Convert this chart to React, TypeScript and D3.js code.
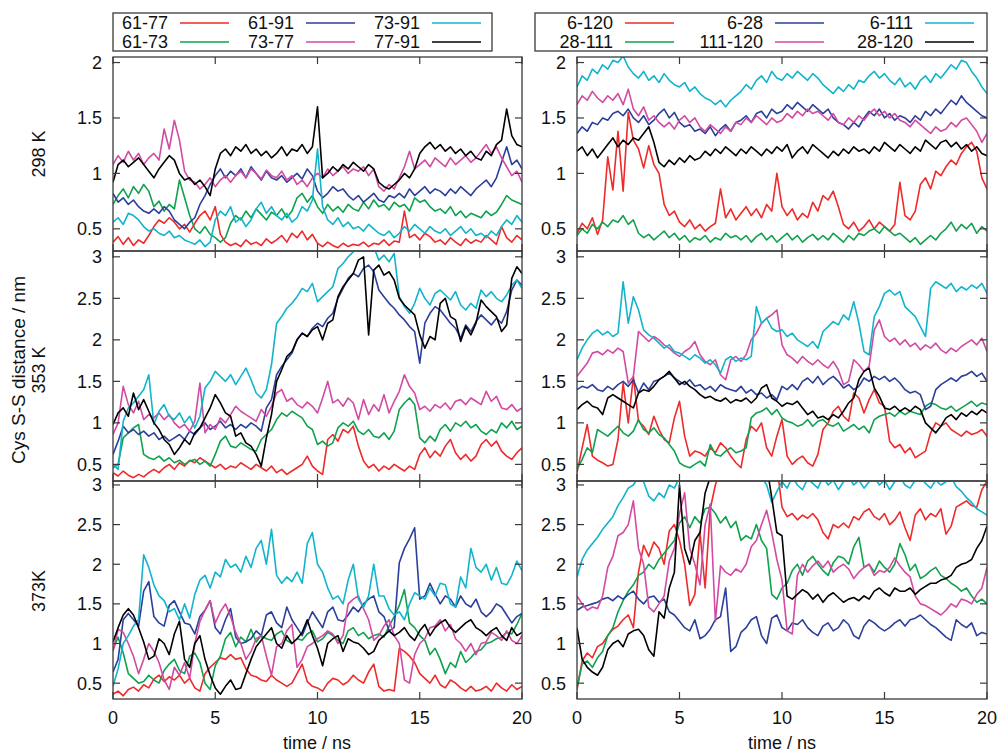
import React from "react";
import * as d3 from "d3";

// sampling times, every 0.25 ns
const times = d3.range(81).map((i) => i * 0.25);

const leftNames = ["61-77", "61-73", "61-91", "73-77", "73-91", "77-91"];
const rightNames = ["6-120", "28-111", "6-28", "111-120", "6-111", "28-120"];
const colors = ["#ee2a2a", "#0fa24e", "#2b3f9a", "#d24aa2", "#12b4cc", "#000000"];
const rowLabels = ["298 K", "353 K", "373K"];
const yTicksTop = [0.5, 1, 1.5, 2];
const yTicksLow = [0.5, 1, 1.5, 2, 2.5, 3];
const xTicks = [0, 5, 10, 15, 20];

// ---- 298 K, left (61-77, 61-73, 61-91, 73-77, 73-91, 77-91)
const a298red = [0.38,0.43,0.36,0.42,0.35,0.40,0.37,0.44, 0.52,0.58,0.55,0.60,0.56,0.50,0.54,0.47, 0.55,0.62,0.66,0.58,0.70,0.45,0.38,0.35, 0.37,0.34,0.40,0.36,0.38,0.35,0.41,0.37, 0.40,0.44,0.38,0.46,0.42,0.48,0.40,0.45, 0.37,0.34,0.38,0.35,0.33,0.37,0.34,0.36, 0.35,0.38,0.34,0.37,0.36,0.40,0.35,0.39, 0.38,0.66,0.42,0.45,0.40,0.46,0.43,0.38, 0.40,0.36,0.42,0.38,0.35,0.41,0.37,0.40, 0.38,0.44,0.40,0.36,0.52,0.42,0.38,0.44, 0.40];
const a298green = [0.72,0.80,0.86,0.78,0.88,0.82,0.90,0.84, 0.70,0.75,0.66,0.72,0.68,0.94,0.78,0.62, 0.50,0.46,0.52,0.45,0.42,0.38,0.42,0.55, 0.62,0.58,0.66,0.60,0.68,0.63,0.58,0.65, 0.62,0.68,0.60,0.66,0.78,0.82,0.74,0.80, 0.70,0.64,0.72,0.66,0.70,0.65,0.72,0.68, 0.66,0.74,0.68,0.76,0.70,0.72,0.67,0.74, 0.70,0.72,0.66,0.78,0.74,0.76,0.70,0.66, 0.68,0.64,0.70,0.62,0.66,0.60,0.64,0.62, 0.60,0.66,0.62,0.65,0.72,0.80,0.76,0.74, 0.72];
const a298blue = [0.82,0.74,0.78,0.72,0.76,0.70,0.66,0.64, 0.68,0.64,0.70,0.66,0.58,0.54,0.50,0.56, 0.60,0.72,0.80,0.90,0.98,1.04,0.96,1.02, 0.98,1.04,0.96,1.06,1.00,0.94,1.02,0.96, 0.94,0.98,0.92,0.96,1.00,0.95,1.04,0.98, 0.84,0.78,0.82,0.88,0.84,0.86,0.80,0.76, 0.80,0.74,0.78,0.82,0.76,0.74,0.80,0.78, 0.82,0.78,0.86,0.80,0.84,0.88,0.82,0.86, 0.84,0.80,0.86,0.82,0.88,0.84,0.80,0.86, 0.90,0.94,0.88,0.96,1.10,1.24,1.08,1.12, 1.04];
const a298magenta = [1.08,1.16,1.10,1.20,1.12,1.18,1.08,1.14, 1.18,1.12,1.40,1.22,1.48,1.30,1.02,0.94, 0.92,0.86,0.90,0.96,0.88,0.94,0.98,0.92, 0.98,1.02,0.96,1.04,1.00,0.95,1.03,0.98, 0.96,1.02,0.94,0.98,0.90,0.94,0.88,0.96, 1.00,0.96,1.04,0.98,1.02,1.06,1.00,1.04, 1.02,1.06,0.98,1.04,0.88,0.84,0.90,0.86, 0.96,1.06,1.20,1.04,1.08,1.12,1.06,1.14, 1.10,1.06,1.14,1.08,1.12,1.16,1.10,1.14, 1.20,1.26,1.18,1.24,1.14,1.06,0.98,1.02, 0.92];
const a298cyan = [0.56,0.60,0.54,0.64,0.62,0.58,0.52,0.48, 0.50,0.46,0.44,0.48,0.42,0.44,0.40,0.38, 0.36,0.40,0.34,0.38,0.58,0.66,0.62,0.70, 0.56,0.60,0.52,0.58,0.68,0.74,0.64,0.70, 0.62,0.58,0.64,0.56,0.60,0.70,0.66,0.76, 1.22,0.70,0.58,0.54,0.60,0.52,0.56,0.50, 0.52,0.48,0.54,0.50,0.46,0.44,0.48,0.42, 0.46,0.52,0.48,0.54,0.50,0.46,0.52,0.48, 0.46,0.50,0.44,0.48,0.52,0.46,0.50,0.44, 0.46,0.42,0.48,0.44,0.52,0.58,0.54,0.62, 0.56];
const a298black = [0.92,1.08,1.12,1.06,1.10,1.14,1.08,1.02, 0.96,1.04,1.10,1.16,1.12,1.00,0.94,0.96, 0.90,0.94,0.88,0.80,1.04,1.18,1.22,1.16, 1.24,1.20,1.26,1.18,1.22,1.16,1.20,1.14, 1.18,1.24,1.16,1.22,1.20,1.26,1.18,1.24, 1.60,0.96,1.00,1.06,1.02,1.08,1.04,1.10, 1.06,1.02,1.08,1.04,0.92,0.88,0.86,0.90, 0.94,1.00,0.96,1.04,1.18,1.24,1.28,1.22, 1.26,1.20,1.24,1.18,1.22,1.16,1.20,1.14, 1.12,1.20,1.16,1.26,1.30,1.58,1.34,1.26, 1.24];

// ---- 298 K, right (6-120, 28-111, 6-28, 111-120, 6-111, 28-120)
const b298red = [0.46,0.55,0.50,0.60,0.45,0.58,1.15,0.85, 1.38,0.84,1.55,1.30,1.22,1.05,1.25,1.08, 1.00,0.72,0.62,0.66,0.56,0.52,0.58,0.50, 0.54,0.48,0.52,0.55,0.86,0.60,0.68,0.58, 0.64,0.70,0.62,0.68,0.60,0.72,0.66,1.00, 0.70,0.62,0.68,0.58,0.64,0.60,0.74,0.66, 0.80,0.76,0.84,0.70,0.54,0.50,0.56,0.48, 0.52,0.58,0.50,0.56,0.52,0.48,0.54,0.92, 0.62,0.58,0.66,0.90,0.96,0.86,1.02,0.98, 1.06,1.12,1.08,1.18,1.24,1.28,1.20,0.96, 0.86];
const b298green = [0.44,0.50,0.46,0.54,0.50,0.56,0.52,0.58, 0.56,0.62,0.54,0.58,0.46,0.42,0.45,0.40, 0.44,0.48,0.42,0.46,0.40,0.44,0.38,0.42, 0.40,0.44,0.38,0.42,0.40,0.46,0.42,0.44, 0.40,0.44,0.38,0.43,0.46,0.40,0.44,0.38, 0.42,0.46,0.40,0.44,0.38,0.42,0.45,0.40, 0.44,0.40,0.46,0.42,0.38,0.44,0.40,0.46, 0.44,0.48,0.50,0.46,0.52,0.48,0.44,0.46, 0.42,0.38,0.42,0.36,0.40,0.44,0.40,0.46, 0.50,0.56,0.48,0.54,0.50,0.55,0.46,0.52, 0.48];
const b298blue = [1.36,1.42,1.38,1.46,1.44,1.50,1.48,1.54, 1.56,1.52,1.58,1.50,1.46,1.52,1.44,1.48, 1.54,1.58,1.50,1.55,1.46,1.42,1.44,1.38, 1.40,1.36,1.42,1.34,1.40,1.44,1.38,1.46, 1.48,1.52,1.46,1.54,1.56,1.50,1.58,1.54, 1.56,1.62,1.58,1.64,1.60,1.56,1.62,1.58, 1.54,1.58,1.50,1.46,1.44,1.40,1.46,1.42, 1.50,1.56,1.52,1.58,1.50,1.54,1.48,1.52, 1.50,1.46,1.52,1.48,1.56,1.52,1.58,1.54, 1.60,1.66,1.62,1.70,1.64,1.60,1.56,1.52, 1.50];
const b298magenta = [1.62,1.70,1.66,1.74,1.68,1.64,1.70,1.66, 1.72,1.62,1.76,1.58,1.52,1.60,1.48,1.52, 1.46,1.42,1.46,1.40,1.48,1.52,1.46,1.50, 1.42,1.38,1.44,1.40,1.36,1.42,1.38,1.46, 1.44,1.50,1.46,1.52,1.48,1.44,1.50,1.46, 1.48,1.54,1.50,1.56,1.52,1.58,1.54,1.56, 1.52,1.48,1.54,1.46,1.44,1.50,1.46,1.52, 1.48,1.54,1.58,1.52,1.56,1.50,1.54,1.48, 1.46,1.42,1.48,1.44,1.40,1.36,1.42,1.38, 1.40,1.46,1.42,1.48,1.50,1.44,1.38,1.28, 1.36];
const b298cyan = [1.78,1.88,1.84,1.94,1.90,1.98,1.94,2.02, 2.00,2.06,1.96,1.90,1.86,1.92,1.84,1.88, 1.82,1.90,1.84,1.80,1.78,1.82,1.74,1.78, 1.72,1.68,1.66,1.62,1.66,1.60,1.66,1.70, 1.74,1.80,1.76,1.84,1.88,1.82,1.92,1.86, 1.84,1.90,1.86,1.92,1.88,1.84,1.90,1.86, 1.80,1.76,1.72,1.78,1.74,1.80,1.76,1.84, 1.82,1.88,1.92,1.86,1.90,1.84,1.80,1.86, 1.78,1.82,1.76,1.84,1.88,1.82,1.90,1.86, 1.92,1.98,1.94,2.02,2.00,1.92,1.86,1.78, 1.72];
const b298black = [1.20,1.24,1.16,1.22,1.14,1.20,1.26,1.32, 1.24,1.30,1.26,1.32,1.30,1.36,1.42,1.28, 1.10,1.06,1.12,1.08,1.14,1.10,1.16,1.12, 1.14,1.20,1.16,1.22,1.18,1.24,1.20,1.16, 1.22,1.18,1.24,1.20,1.16,1.22,1.18,1.24, 1.20,1.26,1.14,1.20,1.24,1.18,1.26,1.22, 1.18,1.14,1.20,1.16,1.22,1.18,1.24,1.20, 1.22,1.18,1.24,1.20,1.28,1.24,1.20,1.26, 1.22,1.18,1.24,1.20,1.30,1.26,1.22,1.28, 1.30,1.24,1.28,1.22,1.26,1.20,1.24,1.18, 1.16];

// ---- 353 K, left
const a353red = [0.40,0.36,0.42,0.37,0.34,0.38,0.35,0.40, 0.44,0.40,0.46,0.50,0.44,0.52,0.48,0.55, 0.52,0.58,0.54,0.50,0.46,0.50,0.44,0.48, 0.46,0.52,0.48,0.44,0.50,0.46,0.42,0.48, 0.40,0.44,0.38,0.42,0.46,0.50,0.60,0.48, 0.42,0.38,0.80,0.86,0.78,0.92,0.88,0.96, 0.72,0.54,0.46,0.50,0.42,0.48,0.44,0.50, 0.46,0.42,0.48,0.44,0.62,0.70,0.58,0.66, 0.60,0.72,0.80,0.64,0.56,0.62,0.54,0.60, 0.74,0.80,0.72,0.78,0.66,0.60,0.56,0.64, 0.70];
const a353green = [0.46,0.50,0.82,0.88,0.94,0.98,0.62,0.58, 0.56,0.60,0.54,0.58,0.52,0.55,0.50,0.54, 0.56,0.50,0.54,0.48,0.62,0.78,0.84,0.72, 0.70,0.76,0.72,0.68,0.66,0.80,0.86,0.92, 1.04,1.12,1.08,1.14,1.10,1.06,0.96,0.92, 0.74,0.78,0.72,0.76,0.94,1.00,0.96,1.02, 0.90,0.86,0.92,0.84,0.82,0.88,0.80,0.90, 1.16,1.24,1.30,1.22,0.82,0.76,0.84,0.78, 0.92,0.98,0.90,1.00,0.96,1.02,0.94,0.98, 0.90,0.86,0.92,0.88,1.00,0.94,1.02,0.92, 0.96];
const a353blue = [0.62,0.78,0.96,0.88,0.92,0.86,0.90,0.84, 0.88,0.80,0.84,0.78,0.82,0.86,0.80,0.90, 0.86,0.94,1.00,0.92,0.96,1.02,0.94,0.98, 0.92,0.98,0.94,1.00,0.96,0.90,1.18,1.28, 1.58,1.68,1.76,1.84,2.00,2.08,2.04,2.14, 2.20,2.16,2.26,2.32,2.50,2.62,2.74,2.80, 2.76,2.86,2.90,2.82,2.60,2.52,2.44,2.38, 2.30,2.24,2.16,2.10,1.72,2.20,2.32,2.40, 2.36,2.28,2.20,2.14,2.02,2.18,2.10,2.22, 2.30,2.24,2.18,2.26,2.20,2.34,2.60,2.72, 2.66];
const a353magenta = [0.86,1.00,1.44,1.22,1.12,1.26,1.04,1.10, 1.06,1.12,1.04,1.10,1.00,0.94,0.98,0.90, 1.02,1.48,0.88,0.98,0.92,1.06,1.00,1.10, 1.20,1.14,1.10,1.06,1.02,1.16,1.08,1.20, 1.36,1.40,1.26,1.30,1.22,1.18,1.25,1.20, 1.12,1.30,1.50,1.24,1.28,1.20,1.30,1.24, 1.04,1.28,1.10,1.22,1.14,1.34,1.12,1.26, 1.38,1.58,1.44,1.36,1.16,1.20,1.14,1.22, 1.18,1.24,1.16,1.26,1.28,1.22,1.30,1.26, 1.22,1.38,1.26,1.32,1.18,1.16,1.22,1.14, 1.18];
const a353cyan = [0.50,0.44,1.02,1.18,1.24,1.32,1.40,1.58, 0.98,1.14,1.22,1.08,1.04,1.12,1.00,1.08, 0.94,1.08,1.42,1.50,1.62,1.56,1.50,1.58, 1.46,1.56,1.66,1.52,1.36,1.30,1.40,1.70, 2.20,2.28,2.38,2.44,2.52,2.62,2.58,2.68, 2.46,2.52,2.58,2.64,2.86,2.92,3.00,3.06, 3.10,3.12,3.08,3.12,2.96,3.02,2.94,3.04, 2.52,2.40,2.32,2.44,2.62,2.50,2.42,2.56, 2.60,2.54,2.48,2.58,2.42,2.36,2.44,2.38, 2.60,2.52,2.58,2.50,2.46,2.54,2.66,2.72, 2.62];
const a353black = [0.98,1.12,1.18,1.08,1.36,1.16,1.28,1.14, 1.00,0.92,0.80,0.74,0.62,0.70,0.80,0.74, 0.88,0.94,1.06,1.18,1.34,1.24,1.12,1.08, 0.84,0.88,0.76,0.72,0.62,0.48,0.82,1.10, 1.50,1.64,1.80,1.86,2.00,2.08,2.04,2.12, 2.16,2.00,2.20,2.24,2.52,2.64,2.72,2.80, 2.96,3.00,2.06,2.84,2.90,2.78,2.82,2.72, 2.50,2.42,2.36,2.30,2.06,1.90,2.04,2.00, 2.44,2.50,2.28,2.24,1.98,2.16,2.06,2.20, 2.48,2.40,2.34,2.28,2.10,2.18,2.74,2.88, 2.80];

// ---- 353 K, right
const b353red = [0.40,0.70,0.98,0.60,0.55,0.52,0.48,0.50, 0.80,1.48,1.00,1.56,1.02,0.96,0.86,1.08, 0.92,0.80,0.76,1.06,1.26,0.84,0.60,0.66, 0.64,0.60,0.70,0.64,0.76,0.70,0.60,0.52, 0.46,0.80,0.96,0.90,1.00,0.70,0.60,0.84, 1.04,0.60,0.50,0.56,0.60,0.52,0.48,0.62, 0.92,1.00,1.14,1.20,1.08,1.02,1.36,1.30, 1.12,1.28,1.40,1.24,1.20,0.78,0.70,0.74, 0.64,0.70,0.58,0.62,0.66,0.88,1.00,0.96, 1.00,0.92,0.88,0.84,0.90,0.86,0.88,0.92, 0.84];
const b353green = [0.44,0.56,0.70,0.64,0.92,0.88,0.84,0.90, 0.96,0.88,0.84,0.90,1.04,0.92,0.88,0.94, 0.86,0.82,0.74,0.66,0.52,0.48,0.46,0.50, 0.54,0.48,0.74,0.62,0.60,0.66,0.70,0.64, 0.66,0.70,1.06,1.12,1.14,1.18,1.10,1.16, 1.06,1.02,1.00,0.96,0.98,1.04,0.96,1.02, 1.04,0.98,0.96,1.00,0.90,0.94,0.98,0.92, 0.96,0.88,1.04,1.08,1.10,1.12,1.08,1.14, 1.10,1.14,1.12,1.10,1.20,1.24,1.22,1.18, 1.16,1.20,1.14,1.18,1.22,1.26,1.20,1.24, 1.22];
const b353blue = [1.40,1.44,1.42,1.46,1.40,1.38,1.44,1.40, 1.46,1.50,1.44,1.52,1.36,1.48,1.40,1.50, 1.52,1.56,1.60,1.54,1.50,1.46,1.52,1.44, 1.46,1.40,1.44,1.38,1.46,1.42,1.40,1.38, 1.44,1.36,1.40,1.34,1.36,1.30,1.34,1.28, 1.44,1.40,1.46,1.40,1.50,1.54,1.48,1.56, 1.46,1.52,1.56,1.50,1.42,1.46,1.40,1.44, 1.54,1.50,1.56,1.52,1.56,1.50,1.54,1.48, 1.40,1.36,1.38,1.34,1.16,1.20,1.40,1.46, 1.50,1.54,1.50,1.56,1.58,1.62,1.56,1.60, 1.50];
const b353magenta = [1.56,1.64,1.72,1.84,1.86,1.82,1.88,1.84, 1.90,1.86,1.48,1.56,2.10,2.04,1.98,2.04, 2.00,1.94,1.90,1.84,1.80,1.86,1.90,1.98, 1.82,1.74,1.70,1.76,1.58,1.52,1.76,1.80, 1.74,1.82,2.00,2.08,2.20,2.26,2.30,2.36, 1.94,1.82,1.78,1.72,1.80,1.74,1.70,1.76, 1.70,1.66,1.74,1.64,1.46,1.50,1.76,1.70, 1.62,1.68,2.12,2.24,2.04,1.98,2.02,1.94, 2.00,1.92,1.96,1.88,1.94,1.90,1.96,1.88, 1.84,1.90,1.86,1.92,1.96,2.00,1.94,2.02, 1.86];
const b353cyan = [1.76,1.90,2.00,2.08,2.12,2.06,2.10,2.04, 2.08,2.70,2.20,2.52,2.36,2.12,2.06,2.02, 1.96,1.90,1.94,1.86,1.84,1.80,1.76,1.82, 1.78,1.72,1.76,1.70,1.60,1.76,1.80,1.74, 1.78,1.76,1.80,2.40,2.20,2.26,2.14,2.10, 2.12,2.04,2.08,2.00,1.96,1.92,1.98,1.90, 2.10,2.16,2.22,2.18,2.30,2.24,2.46,2.20, 1.86,1.82,2.28,2.40,2.56,2.60,2.54,2.58, 2.40,2.34,2.28,2.16,2.04,2.62,2.70,2.66, 2.62,2.68,2.58,2.64,2.60,2.66,2.62,2.68, 2.56];
const b353black = [1.16,1.22,1.26,1.20,1.18,1.10,1.30,1.34, 1.30,1.26,1.22,1.18,1.36,1.40,1.38,1.44, 1.52,1.56,1.62,1.54,1.46,1.50,1.44,1.40, 1.34,1.30,1.32,1.28,1.26,1.30,1.24,1.28, 1.26,1.30,1.24,1.30,1.42,1.46,1.30,1.26, 1.20,1.24,1.22,1.26,1.18,1.10,1.14,1.06, 1.08,1.04,1.10,1.06,1.14,1.24,1.30,1.52, 1.62,1.66,1.42,1.32,1.18,1.16,1.20,1.14, 1.18,1.14,1.20,1.16,1.00,0.94,0.88,0.96, 1.06,1.10,1.04,1.12,1.08,1.14,1.10,1.16, 1.12];

// ---- 373 K, left
const a373red = [0.36,0.40,0.34,0.42,0.45,0.40,0.48,0.44, 0.55,0.60,0.52,0.58,0.54,0.60,0.50,0.56, 0.44,0.40,0.62,0.70,0.76,0.82,0.80,0.86, 0.80,0.82,0.68,0.60,0.58,0.54,0.52,0.60, 0.54,0.50,0.46,0.50,0.62,0.74,0.52,0.46, 0.44,0.40,0.50,0.56,0.54,0.48,0.52,0.60, 0.54,0.50,0.64,0.74,0.46,0.40,0.42,0.40, 0.94,0.90,0.84,0.76,0.62,0.56,0.50,0.60, 0.48,0.44,0.54,0.50,0.44,0.40,0.46,0.40, 0.42,0.46,0.40,0.50,0.44,0.40,0.48,0.42, 0.46];
const a373green = [0.92,1.08,0.88,0.62,0.56,0.50,0.52,0.60, 0.54,0.50,0.66,0.74,0.80,0.66,0.62,0.84, 0.88,0.76,0.50,0.42,0.72,0.84,1.06,1.14, 0.96,1.08,1.02,1.18,1.02,1.10,1.06,1.04, 1.12,1.16,1.04,1.00,1.06,1.04,1.12,1.16, 1.02,1.06,1.14,1.10,1.04,1.00,1.16,1.20, 1.10,1.14,1.06,1.10,1.12,1.08,1.22,1.34, 1.48,1.68,1.26,1.20,1.10,1.04,0.86,0.94, 0.80,0.62,0.76,0.70,0.90,0.76,0.82,0.90, 0.92,1.00,1.02,1.06,1.08,1.14,1.12,1.24, 1.38];
const a373blue = [0.64,0.80,1.30,1.38,1.30,1.22,1.66,1.78, 1.34,1.26,1.22,1.48,1.54,1.40,1.26,1.24, 1.12,1.34,1.42,1.54,1.20,1.12,1.30,1.44, 1.08,1.00,1.02,1.06,1.16,1.10,1.36,1.40, 1.26,1.20,1.46,1.30,1.20,1.10,1.26,1.40, 1.30,1.20,1.40,1.46,1.30,1.28,1.36,1.46, 1.40,1.50,1.56,1.60,1.40,1.34,1.16,1.20, 2.02,2.20,2.32,2.46,1.56,1.60,1.76,1.62, 1.50,1.60,1.56,1.46,1.60,1.50,1.46,1.56, 1.40,1.34,1.40,1.50,1.46,1.36,1.26,1.34, 1.38];
const a373magenta = [0.90,1.18,1.14,1.00,0.84,0.62,0.80,1.00, 0.90,0.76,0.54,0.42,0.70,0.60,0.76,0.56, 1.00,1.28,1.42,1.54,1.26,1.40,1.50,1.34, 1.14,1.00,0.80,0.90,1.06,1.10,0.84,0.60, 0.96,1.00,1.16,1.24,0.70,0.80,0.96,1.00, 1.06,1.10,1.16,1.12,1.00,1.10,1.50,1.56, 1.60,1.44,1.30,1.04,1.10,1.22,1.30,1.10, 1.00,0.54,0.50,0.86,1.00,1.06,1.20,1.22, 1.30,1.16,1.24,1.06,1.00,0.90,1.00,0.86, 1.00,1.02,1.14,1.10,1.04,1.16,1.04,1.00, 1.10];
const a373cyan = [0.46,0.68,1.00,1.10,1.22,1.30,2.12,1.96, 1.74,1.60,1.54,1.40,1.44,1.30,1.50,1.32, 1.62,1.80,1.86,1.70,1.90,1.84,2.06,1.96, 2.00,1.90,2.10,1.96,2.20,2.30,2.00,2.44, 1.86,1.76,1.84,1.78,1.90,1.76,2.26,2.40, 2.00,1.90,1.70,1.56,1.60,1.50,1.80,2.00, 1.56,1.46,1.60,2.00,1.60,1.60,1.44,1.36, 1.40,1.30,1.50,1.64,1.60,1.56,1.70,1.60, 1.76,1.74,1.50,1.46,1.84,1.70,2.20,1.96, 1.90,2.00,1.80,1.96,1.76,1.74,1.86,2.04, 1.92];
const a373black = [1.02,1.20,1.36,1.44,1.36,1.20,1.02,0.80, 0.84,1.06,1.00,0.86,1.12,1.28,0.80,0.70, 1.00,1.10,0.80,0.60,0.44,0.36,0.46,0.54, 0.42,0.44,0.62,0.80,0.96,1.04,1.12,1.20, 1.00,0.94,1.10,1.00,1.06,1.14,1.30,1.10, 0.94,0.72,1.00,1.06,1.10,0.90,1.06,1.02, 1.00,0.94,0.86,0.90,1.04,1.10,1.16,1.10, 1.14,1.20,1.10,1.04,1.16,1.24,1.10,1.20, 1.26,1.30,1.20,1.14,1.20,1.26,1.30,1.20, 1.16,1.10,1.16,1.20,1.10,1.04,1.20,1.10, 1.14];

// ---- 373 K, right
const b373red = [0.42,0.78,0.88,0.82,0.96,1.00,1.10,1.18, 1.22,1.30,1.36,1.20,1.90,2.24,2.10,2.28, 2.20,2.00,2.42,2.50,2.30,2.00,1.48,1.62, 2.40,1.70,2.70,3.00,3.20,3.30,3.25,3.20, 3.30,3.20,3.35,3.25,3.30,3.20,3.30,3.25, 2.72,2.60,2.64,2.56,2.62,2.58,2.64,2.56, 2.40,2.32,2.50,2.46,2.52,2.46,2.60,2.56, 2.66,2.70,2.60,2.56,2.64,2.50,2.56,2.66, 2.46,2.30,2.62,2.70,2.56,2.64,2.60,2.70, 2.38,2.48,2.72,2.76,2.80,2.74,2.72,2.94, 3.05];
const b373green = [0.44,0.74,0.78,0.70,0.82,0.90,1.10,1.20, 1.40,1.54,1.66,1.74,1.86,1.90,2.00,1.94, 2.06,2.14,2.22,2.30,2.52,2.60,2.46,2.60, 2.52,2.70,2.72,2.64,2.52,2.60,2.46,2.54, 2.30,2.36,2.32,2.50,2.30,2.20,1.62,1.56, 1.70,1.76,1.92,2.00,1.86,2.04,2.10,2.00, 1.92,1.86,2.02,2.10,2.08,2.00,2.22,2.34, 1.96,2.00,1.90,2.04,1.96,1.90,2.00,2.26, 2.12,1.92,2.00,1.82,1.86,1.92,1.96,1.86, 1.82,1.76,1.72,1.66,1.70,1.60,1.52,1.56, 1.50];
const b373blue = [1.42,1.46,1.48,1.50,1.52,1.56,1.58,1.54, 1.60,1.56,1.62,1.66,1.56,1.50,1.58,1.60, 1.52,1.56,1.40,1.36,1.28,1.20,1.16,1.30, 1.06,1.10,1.18,1.30,1.34,1.70,0.90,0.96, 1.14,1.20,1.30,1.34,1.10,1.00,1.32,1.36, 1.20,1.16,1.26,1.24,1.30,1.20,1.14,1.10, 1.22,1.26,1.16,1.20,1.30,1.24,1.10,1.06, 1.22,1.30,1.26,1.20,1.16,1.20,1.26,1.30, 1.22,1.30,1.32,1.36,1.30,1.24,1.20,1.14, 1.08,1.04,1.30,1.24,1.20,1.26,1.10,1.14, 1.12];
const b373magenta = [1.60,1.50,1.42,1.46,1.44,1.60,1.96,2.10, 2.36,2.40,2.50,2.80,2.20,2.00,1.46,1.40, 1.50,1.60,2.04,2.20,2.64,2.90,2.20,2.00, 1.74,2.50,2.76,1.28,1.98,1.90,1.86,1.94, 1.90,2.00,2.22,2.30,2.50,2.68,2.40,2.06, 1.80,1.16,1.12,1.86,2.00,1.90,1.98,2.04, 1.96,2.04,1.90,1.96,2.00,1.94,1.82,1.90, 1.96,2.00,1.86,1.92,1.90,1.96,2.08,1.98, 1.90,1.84,1.60,1.50,1.48,1.44,1.40,1.36, 1.42,1.50,1.46,1.56,1.54,1.50,1.62,1.70, 1.96];
const b373cyan = [1.84,2.06,2.18,2.26,2.34,2.44,2.52,2.60, 2.74,2.84,2.96,3.00,3.10,3.04,2.86,2.80, 2.90,2.84,3.00,2.96,3.10,3.20,3.30,3.25, 3.30,3.20,3.25,3.30,3.20,3.25,3.30,3.20, 3.25,3.30,3.20,3.25,3.10,3.00,2.78,2.92, 3.04,2.96,3.10,3.00,2.94,3.08,3.02,2.96, 3.10,3.00,3.06,2.94,3.04,3.10,3.00,3.06, 2.96,3.04,3.10,3.00,3.06,2.94,3.04,3.10, 3.00,2.96,3.06,3.10,3.02,2.96,3.06,3.00, 3.04,3.10,2.98,2.92,2.84,2.78,2.70,2.66, 2.62];
const b373black = [1.20,0.80,0.70,0.64,0.60,0.70,0.92,1.00, 1.04,0.96,1.12,1.16,1.18,1.10,0.92,0.84, 1.40,1.32,1.70,1.90,3.00,2.20,2.00,2.30, 2.40,2.90,3.10,3.20,3.30,3.20,3.30,3.25, 3.30,3.20,3.25,3.30,3.20,3.25,2.84,2.40, 2.36,1.60,1.56,1.62,1.68,1.64,1.56,1.62, 1.52,1.60,1.64,1.58,1.52,1.56,1.58,1.54, 1.60,1.56,1.66,1.70,1.64,1.60,1.70,1.66, 1.66,1.70,1.62,1.68,1.72,1.76,1.76,1.80, 1.82,1.86,1.96,2.00,2.02,2.06,2.20,2.30, 2.48];

const panelSeries = [
  [
    [a298red, a298green, a298blue, a298magenta, a298cyan, a298black],
    [b298red, b298green, b298blue, b298magenta, b298cyan, b298black],
  ],
  [
    [a353red, a353green, a353blue, a353magenta, a353cyan, a353black],
    [b353red, b353green, b353blue, b353magenta, b353cyan, b353black],
  ],
  [
    [a373red, a373green, a373blue, a373magenta, a373cyan, a373black],
    [b373red, b373green, b373blue, b373magenta, b373cyan, b373black],
  ],
];

const FONT = "'Liberation Sans', Arial, Helvetica, sans-serif";
const FRAME = "#3a3a3a";
const FS = 18;

const cols = [
  { x0: 113, x1: 522, names: leftNames, legend: { x0: 113, x1: 492, textEnd: 168, step: 126 } },
  { x0: 577, x1: 987, names: rightNames, legend: { x0: 535, x1: 987, textEnd: 613, step: 150 } },
];
const rows = [
  { y0: 57, y1: 251, yMax: 2.05, ticks: yTicksTop },
  { y0: 251, y1: 481, yMax: 3.07, ticks: yTicksLow },
  { y0: 481, y1: 699, yMax: 3.05, ticks: yTicksLow },
];

function Panel({ ri, ci }: { ri: number; ci: number }) {
  const r = rows[ri];
  const c = cols[ci];
  const x = d3.scaleLinear().domain([0, 20]).range([c.x0, c.x1]);
  const y = d3.scaleLinear().domain([0.3, r.yMax]).range([r.y1, r.y0]);
  const line = d3
    .line<number>()
    .x((_, i) => x(times[i]))
    .y((d) => y(d));
  const clipId = `clip-${ri}-${ci}`;
  const tl = 7;
  return (
    <g>
      <defs>
        <clipPath id={clipId}>
          <rect x={c.x0} y={r.y0} width={c.x1 - c.x0} height={r.y1 - r.y0} />
        </clipPath>
      </defs>
      <g clipPath={`url(#${clipId})`}>
        {panelSeries[ri][ci].map((s, k) => (
          <path
            key={k}
            d={line(s) || ""}
            fill="none"
            stroke={colors[k]}
            strokeWidth={1.6}
            strokeLinejoin="round"
          />
        ))}
      </g>
      <rect
        x={c.x0}
        y={r.y0}
        width={c.x1 - c.x0}
        height={r.y1 - r.y0}
        fill="none"
        stroke={FRAME}
        strokeWidth={1.3}
      />
      {r.ticks.map((t) => (
        <g key={"y" + t}>
          <line x1={c.x0} x2={c.x0 + tl} y1={y(t)} y2={y(t)} stroke={FRAME} strokeWidth={1.2} />
          <line x1={c.x1} x2={c.x1 - tl} y1={y(t)} y2={y(t)} stroke={FRAME} strokeWidth={1.2} />
          <text
            x={c.x0 - 11}
            y={y(t)}
            dy="0.36em"
            textAnchor="end"
            fontSize={FS}
            fontFamily={FONT}
            fill="#111"
          >
            {String(t)}
          </text>
        </g>
      ))}
      {xTicks.map((t) => (
        <g key={"x" + t}>
          <line x1={x(t)} x2={x(t)} y1={r.y0} y2={r.y0 + tl} stroke={FRAME} strokeWidth={1.2} />
          <line x1={x(t)} x2={x(t)} y1={r.y1} y2={r.y1 - tl} stroke={FRAME} strokeWidth={1.2} />
          {ri === 2 && (
            <text
              x={x(t)}
              y={724}
              textAnchor="middle"
              fontSize={FS}
              fontFamily={FONT}
              fill="#111"
            >
              {String(t)}
            </text>
          )}
        </g>
      ))}
    </g>
  );
}

function Legend({ ci }: { ci: number }) {
  const c = cols[ci];
  const L = c.legend;
  return (
    <g>
      <rect x={L.x0} y={13} width={L.x1 - L.x0} height={38} fill="#fff" stroke={FRAME} strokeWidth={1.3} />
      {c.names.map((name, i) => {
        const col = Math.floor(i / 2);
        const row = i % 2;
        const tx = L.textEnd + col * L.step;
        const ly = 23 + row * 19;
        return (
          <g key={name}>
            <text
              x={tx}
              y={ly}
              dy="0.36em"
              textAnchor="end"
              fontSize={FS}
              fontFamily={FONT}
              fill="#111"
            >
              {name}
            </text>
            <line x1={tx + 12} x2={tx + 61} y1={ly} y2={ly} stroke={colors[i]} strokeWidth={1.6} />
          </g>
        );
      })}
    </g>
  );
}

export default function App() {
  return (
    <svg
      width={997}
      height={754}
      style={{ position: "absolute", left: 0, top: 0, background: "#fff" }}
    >
      <rect width={997} height={754} fill="#fff" />
      {rows.map((_, ri) => cols.map((__, ci) => <Panel key={`${ri}-${ci}`} ri={ri} ci={ci} />))}
      <Legend ci={0} />
      <Legend ci={1} />
      {[154, 370, 591].map((cy, i) => (
        <text
          key={rowLabels[i]}
          transform={`translate(39,${cy}) rotate(-90)`}
          textAnchor="middle"
          dy="0.36em"
          fontSize={FS}
          fontFamily={FONT}
          fill="#111"
        >
          {rowLabels[i]}
        </text>
      ))}
      <text
        transform="translate(18,370) rotate(-90)"
        textAnchor="middle"
        dy="0.36em"
        fontSize={19}
        fontFamily={FONT}
        fill="#111"
      >
        Cys S-S distance / nm
      </text>
      <text x={317} y={749} textAnchor="middle" fontSize={FS} fontFamily={FONT} fill="#111">
        time / ns
      </text>
      <text x={782} y={749} textAnchor="middle" fontSize={FS} fontFamily={FONT} fill="#111">
        time / ns
      </text>
    </svg>
  );
}
